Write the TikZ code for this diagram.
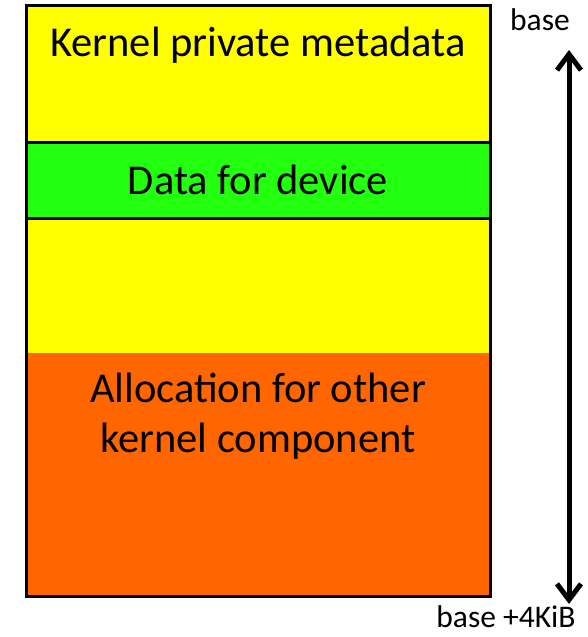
\documentclass[tikz,border=0pt]{standalone}
\usepackage{fontspec}
\setmainfont{Carlito}
\usetikzlibrary{arrows.meta}
\definecolor{kyellow}{HTML}{FFFF00}
\definecolor{kgreen}{HTML}{22FF0F}
\definecolor{korange}{HTML}{FF6600}
\begin{document}
\begin{tikzpicture}[x=1pt,y=-1pt,
  lbl/.style={font=\fontsize{42.5}{50}\selectfont, inner sep=0pt, align=center},
  side/.style={font=\fontsize{31.5}{38}\selectfont, inner sep=0pt}]
\useasboundingbox (0,0) rectangle (587,637);
\fill[kyellow] (26,5) rectangle (490,353);
\fill[korange] (26,353) rectangle (490,596);
\draw[line width=3pt, fill=kgreen] (26,142) rectangle (490,218);
\draw[line width=3pt] (26,5) rectangle (490,596);
\node[lbl] (meta) at (258,45) {Kernel private metadata};
\node[lbl] (dev) at (258,180) {Data for device};
\node[lbl] (alloc) at (258,416) {Allocation for other\\kernel component};
\node[side] (base) at (540,20) {base};
\node[side] (end) at (506,617) {base +4KiB};
\coordinate (top) at (569,50);
\coordinate (bot) at (569,604);
\draw[line width=5pt, {Straight Barb[length=16pt,width=24pt,line width=5pt]}-{Straight Barb[length=16pt,width=24pt,line width=5pt]}] (top) -- (bot);
\end{tikzpicture}
\end{document}
